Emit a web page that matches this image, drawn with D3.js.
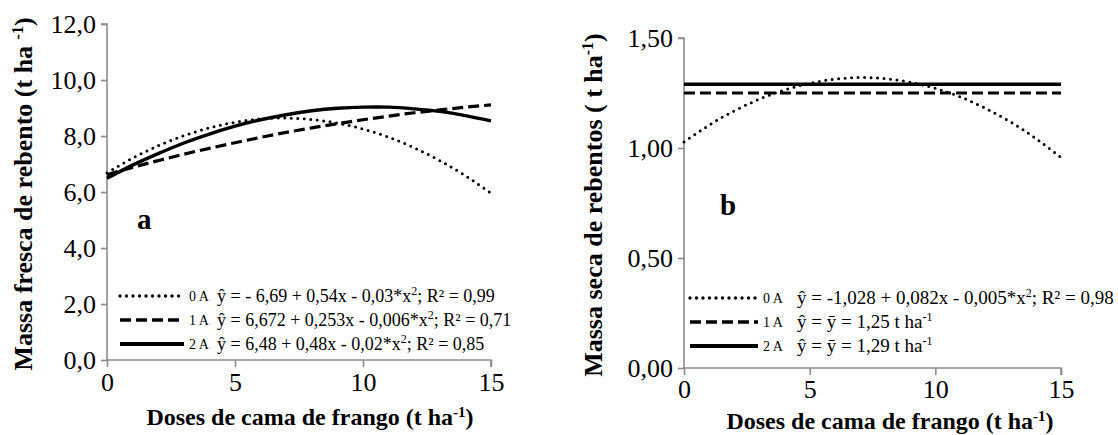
<!DOCTYPE html>
<html><head><meta charset="utf-8">
<script src="https://cdn.jsdelivr.net/npm/d3@7"></script>
<style>
html,body{margin:0;padding:0;background:#fff;}
svg text{font-family:"Liberation Serif","Times New Roman",Times,"DejaVu Serif",serif !important;}
</style></head>
<body><svg id="c" width="1118" height="435"></svg>
<script>
// ---- data ----
const doses = [0,1,2,3,4,5,6,7,8,9,10,11,12,13,14,15];
const freshA0 = [6.68,7.21,7.65,8.01,8.29,8.49,8.61,8.64,8.59,8.46,8.25,7.96,7.58,7.12,6.58,5.96];
const freshA1 = [6.62,6.88,7.12,7.35,7.56,7.76,7.95,8.13,8.29,8.44,8.58,8.71,8.83,8.93,9.03,9.11];
const freshA2 = [6.49,6.96,7.37,7.75,8.07,8.35,8.58,8.76,8.90,8.99,9.03,9.03,8.97,8.88,8.73,8.54];
const dryA0 = [1.027,1.104,1.169,1.222,1.264,1.294,1.313,1.320,1.315,1.299,1.271,1.232,1.180,1.118,1.043,0.957];
const dryA1 = [1.25,1.25,1.25,1.25,1.25,1.25,1.25,1.25,1.25,1.25,1.25,1.25,1.25,1.25,1.25,1.25];
const dryA2 = [1.29,1.29,1.29,1.29,1.29,1.29,1.29,1.29,1.29,1.29,1.29,1.29,1.29,1.29,1.29,1.29];
const xTicks = [0,5,10,15];
const freshTicks = [0,2,4,6,8,10,12];
const dryTicks = [0,0.5,1.0,1.5];
const seriesNames = ["0 A","1 A","2 A"];
const freshEq = [
  ["ŷ = - 6,69 + 0,54x - 0,03*x","2","; R² = 0,99"],
  ["ŷ = 6,672 + 0,253x - 0,006*x","2","; R² = 0,71"],
  ["ŷ = 6,48 + 0,48x - 0,02*x","2","; R² = 0,85"]
];
const dryEq = [
  ["ŷ = -1,028 + 0,082x - 0,005*x","2","; R² = 0,98"],
  ["ŷ = ȳ = 1,25 t ha","-1",""],
  ["ŷ = ȳ = 1,29 t ha","-1",""]
];

const svg = d3.select("#c");
const styles = [
  {w:3, dash:"0 6.5", cap:"round"},
  {w:3.2, dash:"11 5", cap:"butt"},
  {w:3.4, dash:null, cap:"butt"}
];
const fmt1 = d => d.toFixed(1).replace(".",",");
const fmt2 = d => d.toFixed(2).replace(".",",");

function panel(o){
  const g = svg.append("g");
  const x = d3.scaleLinear().domain([0,15]).range([o.x0,o.x1]);
  const y = d3.scaleLinear().domain(o.ydom).range([o.yb,o.yt]);
  const ya = g.append("g").attr("transform",`translate(${o.x0},0)`)
    .call(d3.axisLeft(y).tickValues(o.yticks).tickSize(6).tickFormat(o.fmt).tickPadding(5));
  const xa = g.append("g").attr("transform",`translate(0,${o.yb})`)
    .call(d3.axisBottom(x).tickValues(xTicks).tickSize(7).tickFormat(d=>d).tickPadding(o.xpad));
  [ya,xa].forEach(a=>{
    a.selectAll("path").attr("stroke","#8c8c8c").attr("stroke-width",1.6);
    a.selectAll("line").attr("stroke","#8c8c8c").attr("stroke-width",1.6);
    a.selectAll("text").attr("font-size",26).attr("fill","#000");
  });
  ya.select(".domain").attr("d",`M-6,${o.yt}H0V${o.yb}`);
  xa.select(".domain").attr("d",`M${o.x0},0H${o.x1}V7`);
  const line = d3.line().x((d,i)=>x(doses[i])).y(d=>y(d)).curve(d3.curveNatural);
  o.series.forEach((s,k)=>{
    const st = styles[k];
    g.append("path").datum(s).attr("d",line).attr("fill","none")
      .attr("stroke","#000").attr("stroke-width",st.w)
      .attr("stroke-dasharray",st.dash).attr("stroke-linecap",st.cap);
  });
  o.eqs.forEach((e,k)=>{
    const st = styles[k];
    const ly = o.ly0 + k*o.ldy;
    g.append("line").attr("x1",o.lx).attr("x2",o.lx+o.lw).attr("y1",ly).attr("y2",ly)
      .attr("stroke","#000").attr("stroke-width",st.w+0.4)
      .attr("stroke-dasharray",st.dash).attr("stroke-linecap",st.cap);
    g.append("text").attr("x",o.lx+o.lw+5).attr("y",ly+5).attr("font-size",14).text(seriesNames[k]);
    const t = g.append("text").attr("x",o.ex).attr("y",ly+6).attr("font-size",o.efs);
    t.append("tspan").text(e[0]);
    t.append("tspan").attr("dy",-7).attr("font-size",12).text(e[1]);
    t.append("tspan").attr("dy",7).text(e[2]);
  });
  g.append("text").attr("x",o.letx).attr("y",o.lety).attr("font-size",29).attr("font-weight","bold").text(o.letter);
  const xt = g.append("text").attr("x",o.xtx).attr("y",o.xty).attr("text-anchor","middle")
    .attr("font-size",24).attr("font-weight","bold");
  xt.append("tspan").text("Doses de cama de frango (t ha");
  xt.append("tspan").attr("dy",-8).attr("font-size",15).text("-1");
  xt.append("tspan").attr("dy",8).text(")");
  const yt = g.append("text").attr("transform",`translate(${o.ytx},${o.yty}) rotate(-90)`)
    .attr("text-anchor","middle").attr("font-size",o.ytfs).attr("font-weight","bold");
  yt.append("tspan").text(o.ytitle);
  yt.append("tspan").attr("dy",-9).attr("font-size",16).text("-1");
  yt.append("tspan").attr("dy",9).text(")");
}

panel({x0:107,x1:491,yt:24,yb:360,ydom:[0,12],yticks:freshTicks,fmt:fmt1,xpad:6,
  series:[freshA0,freshA1,freshA2],eqs:freshEq,efs:18,lx:120,lw:64,ly0:296,ldy:24,ex:217,
  letter:"a",letx:137,lety:229,xtx:310,xty:425,ytx:32,yty:194,ytfs:26,
  ytitle:"Massa fresca de rebento (t ha "});
panel({x0:684,x1:1061,yt:38,yb:368,ydom:[0,1.5],yticks:dryTicks,fmt:fmt2,xpad:5,
  series:[dryA0,dryA1,dryA2],eqs:dryEq,efs:19,lx:690,lw:68,ly0:298,ldy:24,ex:797,
  letter:"b",letx:720,lety:215,xtx:890,xty:429,ytx:602,yty:205,ytfs:26,
  ytitle:"Massa seca de rebentos ( t ha"});
</script></body></html>
